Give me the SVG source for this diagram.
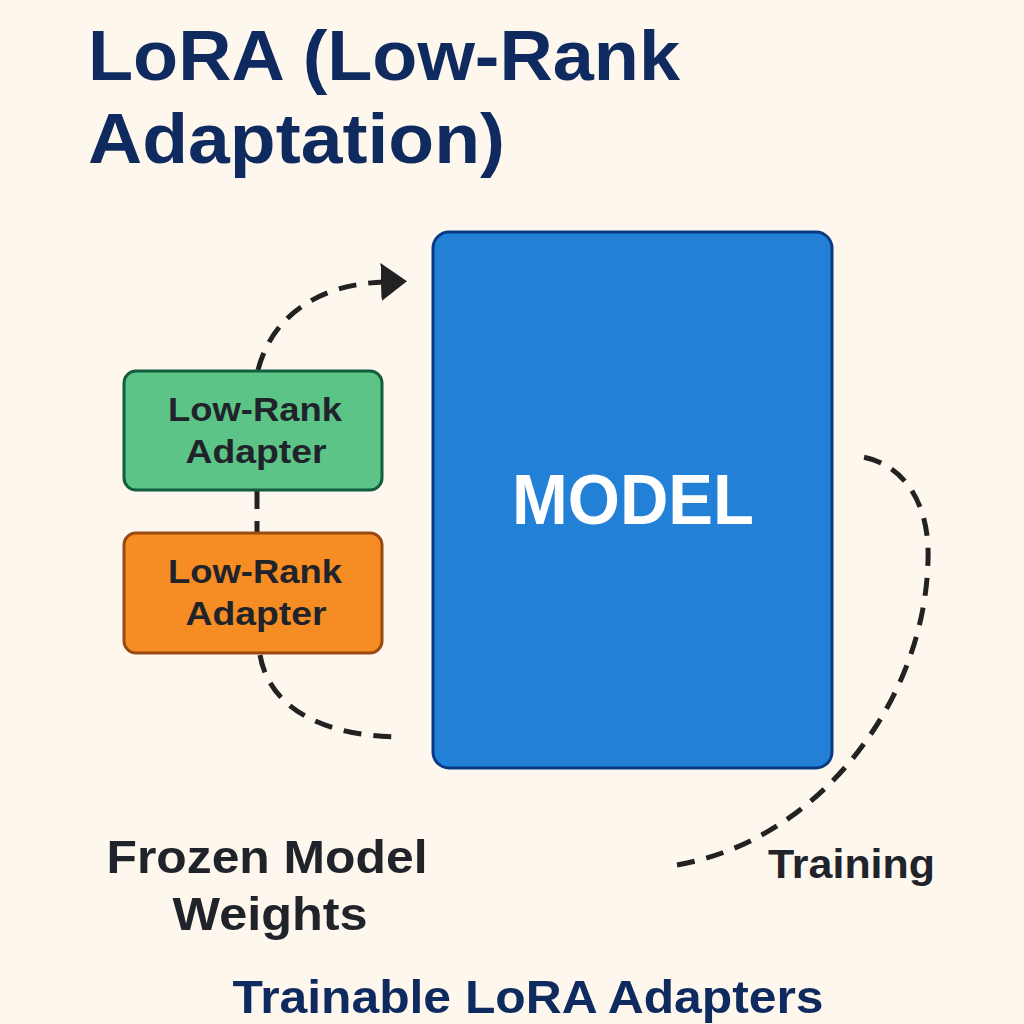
<svg xmlns="http://www.w3.org/2000/svg" width="1024" height="1024" viewBox="0 0 1024 1024">
<defs>
<style>
.t{font-family:"Liberation Sans","DejaVu Sans",sans-serif;font-weight:bold}
.title{fill:#0f2a5e;font-size:71px}
.dark{fill:#20242a}
.dash{fill:none;stroke:#222;stroke-width:5;stroke-dasharray:18 12}
</style>
<marker id="ah" viewBox="0 0 26 38" refX="3" refY="19" markerWidth="26" markerHeight="38" markerUnits="userSpaceOnUse" orient="auto">
<path d="M0,0 L26,19 L0,38 z" fill="#222"/>
</marker>
</defs>
<rect width="1024" height="1024" fill="#fdf7ee"/>
<g id="title">
<text class="t title" x="88" y="80" textLength="592" lengthAdjust="spacingAndGlyphs">LoRA (Low-Rank</text>
<text class="t title" x="88" y="163" textLength="417" lengthAdjust="spacingAndGlyphs">Adaptation)</text>
</g>
<g id="connectors">
<path class="dash" d="M258,370 C272,315 320,284 384,282" marker-end="url(#ah)"/>
<path class="dash" d="M257,491 L257,532"/>
<path class="dash" d="M260,655 C270,712 330,737 402,737"/>
<path class="dash" d="M677,865 C820,840 925,700 928,560 C930,505 905,465 863,457"/>
</g>
<g id="model">
<rect x="433" y="232" width="399" height="536" rx="16" fill="#2280d6" stroke="#0b3a85" stroke-width="3"/>
<text class="t" x="633" y="524" text-anchor="middle" fill="#fff" font-size="70" textLength="242" lengthAdjust="spacingAndGlyphs">MODEL</text>
</g>
<g id="adapter1">
<rect x="124" y="371" width="258" height="119" rx="12" fill="#5cc486" stroke="#135c3e" stroke-width="3"/>
<text class="t dark" x="255" y="421" text-anchor="middle" font-size="34" textLength="174" lengthAdjust="spacingAndGlyphs">Low-Rank</text>
<text class="t dark" x="256" y="463" text-anchor="middle" font-size="34" textLength="141" lengthAdjust="spacingAndGlyphs">Adapter</text>
</g>
<g id="adapter2">
<rect x="124" y="533" width="258" height="120" rx="12" fill="#f58c24" stroke="#9a4a10" stroke-width="3"/>
<text class="t dark" x="255" y="583" text-anchor="middle" font-size="34" textLength="174" lengthAdjust="spacingAndGlyphs">Low-Rank</text>
<text class="t dark" x="256" y="625" text-anchor="middle" font-size="34" textLength="141" lengthAdjust="spacingAndGlyphs">Adapter</text>
</g>
<g id="labels">
<text class="t dark" x="267" y="873" text-anchor="middle" font-size="47" textLength="321" lengthAdjust="spacingAndGlyphs">Frozen Model</text>
<text class="t dark" x="270" y="930" text-anchor="middle" font-size="47" textLength="195" lengthAdjust="spacingAndGlyphs">Weights</text>
<text class="t dark" x="768" y="878" font-size="41" textLength="167" lengthAdjust="spacingAndGlyphs">Training</text>
<text class="t" x="528" y="1013" text-anchor="middle" fill="#0f2a5e" font-size="47" textLength="591" lengthAdjust="spacingAndGlyphs">Trainable LoRA Adapters</text>
</g>
</svg>
